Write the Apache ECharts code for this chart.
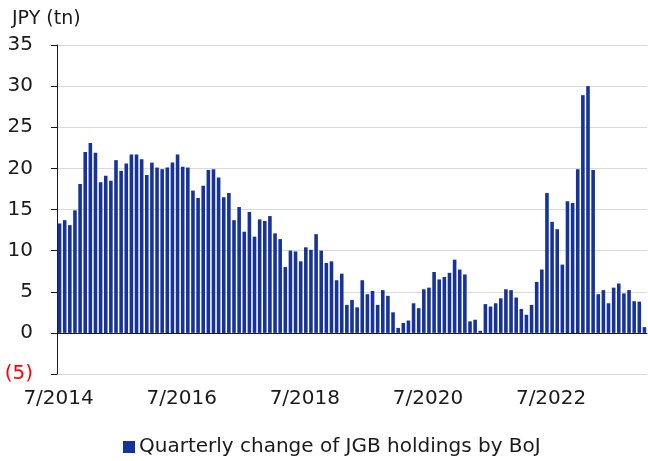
<!DOCTYPE html>
<html>
<head>
<meta charset="utf-8">
<script src="https://cdn.jsdelivr.net/npm/echarts@6/dist/echarts.min.js"></script>
<style>
    html, body { margin: 0; padding: 0; background: #fff; }
    #main { width: 648px; height: 461px; }
</style>
</head>
<body>
<div id="main"></div>
<script>
'use strict';

// 起始月份 7/2014，月度数据
var startYear = 2014,
    startMonth = 7;

// 季度变化 (JPY tn)
var values = [
    13.3, 13.7, 13.1, 14.9, 18.1, 22.0, 23.1, 21.9, 18.3, 19.1, 18.5, 21.0,
    19.7, 20.6, 21.7, 21.7, 21.1, 19.2, 20.7, 20.1, 19.9, 20.1, 20.7, 21.7,
    20.2, 20.1, 17.3, 16.4, 17.9, 19.8, 19.9, 18.9, 16.5, 17.0, 13.7, 15.3,
    12.3, 14.7, 11.7, 13.8, 13.6, 14.2, 12.1, 11.4, 8.0, 10.0, 9.9, 8.7,
    10.4, 10.1, 12.0, 10.0, 8.5, 8.7, 6.4, 7.2, 3.4, 4.0, 3.1, 6.4,
    4.7, 5.1, 3.4, 5.2, 4.5, 2.5, 0.6, 1.2, 1.5, 3.6, 3.0, 5.3,
    5.5, 7.4, 6.5, 6.8, 7.3, 8.9, 7.7, 7.1, 1.4, 1.6, 0.25, 3.5,
    3.2, 3.6, 4.2, 5.3, 5.2, 4.3, 2.9, 2.2, 3.4, 6.2, 7.7, 17.0,
    13.5, 12.6, 8.3, 16.0, 15.8, 19.9, 28.9, 30.0, 19.8, 4.7, 5.2, 3.6,
    5.5, 6.0, 4.8, 5.2, 3.85, 3.8, 0.7
];

var yTicks = [-5, 0, 5, 10, 15, 20, 25, 30, 35];

var seriesName = 'Quarterly change of JGB holdings by BoJ';

// 月份标签
var categories = [];
for (var i = 0; i < values.length; i++) {
    var m = startMonth - 1 + i;
    categories.push((m % 12 + 1) + '/' + (startYear + Math.floor(m / 12)));
}

var fontFamily = 'DejaVu Sans';
var barColor = '#15339a';

var option = {
    animation: false,
    textStyle: { fontFamily: fontFamily },
    title: {
        text: 'JPY (tn)',
        left: 7,
        top: 5,
        textStyle: {
            fontFamily: fontFamily,
            fontSize: 19,
            fontWeight: 'normal',
            color: '#1a1a1a'
        }
    },
    legend: {
        top: 432,
        left: 118,
        itemWidth: 12,
        itemHeight: 12,
        itemGap: 6,
        icon: 'rect',
        textStyle: {
            fontFamily: fontFamily,
            fontSize: 20,
            color: '#1a1a1a',
            padding: [0, 0, 0, -1]
        },
        data: [seriesName]
    },
    grid: {
        left: 57,
        right: 1,
        top: 45,
        bottom: 87,
        containLabel: false
    },
    xAxis: {
        type: 'category',
        data: categories,
        boundaryGap: true,
        axisLine: {
            onZero: true,
            lineStyle: { color: '#1a1a1a', width: 1 }
        },
        axisTick: {
            interval: 23,
            length: 6,
            lineStyle: { color: '#1a1a1a' }
        },
        axisLabel: {
            interval: 23,
            margin: 15,
            fontSize: 20,
            color: '#1a1a1a',
            padding: [0, 2, 0, 0]
        },
        splitLine: { show: false }
    },
    yAxis: {
        type: 'value',
        min: yTicks[0],
        max: yTicks[yTicks.length - 1],
        interval: 5,
        axisLine: {
            show: true,
            lineStyle: { color: '#1a1a1a', width: 1 }
        },
        axisTick: {
            show: true,
            length: 6,
            lineStyle: { color: '#1a1a1a' }
        },
        axisLabel: {
            margin: 24,
            fontSize: 20,
            formatter: function(v) {
                return v < 0 ? '(' + (-v) + ')' : String(v);
            },
            color: function(v) {
                return Number(v) < 0 ? '#ff0000' : '#1a1a1a';
            }
        },
        splitLine: {
            lineStyle: { color: '#d9d9d9', width: 1 }
        }
    },
    series: [{
        name: seriesName,
        type: 'bar',
        data: values,
        barCategoryGap: '30%',
        itemStyle: { color: barColor }
    }]
};

var myChart = echarts.init(document.getElementById('main'), null, { renderer: 'canvas' });
myChart.setOption(option);
</script>
</body>
</html>
